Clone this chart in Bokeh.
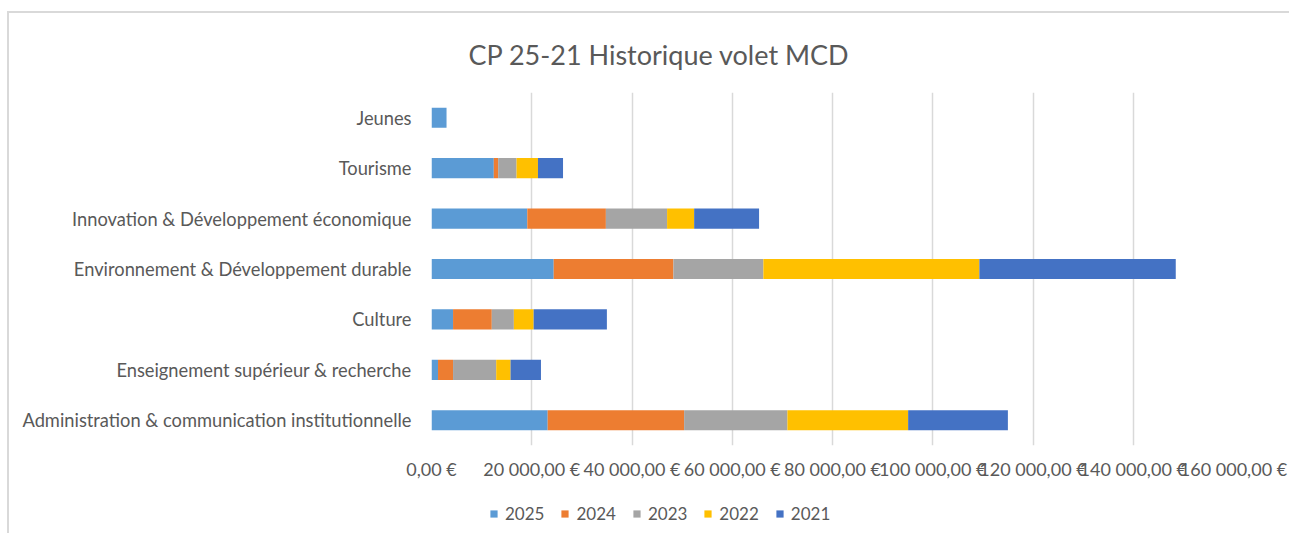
from bokeh.plotting import figure
from bokeh.layouts import column
from bokeh.models import ColumnDataSource, FactorRange, Range1d, FixedTicker, Legend, LegendItem
from bokeh.embed import file_html
from bokeh.resources import INLINE

categories = [
    "Administration & communication institutionnelle",
    "Enseignement supérieur & recherche",
    "Culture",
    "Environnement & Développement durable",
    "Innovation & Développement économique",
    "Tourisme",
    "Jeunes",
]
years = ["2025", "2024", "2023", "2022", "2021"]
v2025 = [23180, 1300, 4300, 24380, 19110, 12430, 3000]
v2024 = [27220, 3000, 7730, 23880, 15680, 870, 0]
v2023 = [20610, 8610, 4400, 17950, 12210, 3670, 0]
v2022 = [24080, 2860, 3950, 43090, 5400, 4270, 0]
v2021 = [19900, 6070, 14610, 39180, 12950, 5000, 0]
colors = ["#5B9BD5", "#ED7D31", "#A5A5A5", "#FFC000", "#4472C4"]

tick_values = [0, 20000, 40000, 60000, 80000, 100000, 120000, 140000, 160000]
tick_labels = ["0,00\u00a0€", "20\u00a0000,00\u00a0€", "40\u00a0000,00\u00a0€", "60\u00a0000,00\u00a0€",
               "80\u00a0000,00\u00a0€", "100\u00a0000,00\u00a0€", "120\u00a0000,00\u00a0€",
               "140\u00a0000,00\u00a0€", "160\u00a0000,00\u00a0€"]

FONT = "Lato"
TXT = "#595959"

src = ColumnDataSource(dict(cat=categories, **{"2025": v2025, "2024": v2024, "2023": v2023,
                                               "2022": v2022, "2021": v2021}))

# main chart
p = figure(width=1280, height=480,
           y_range=FactorRange(factors=categories, range_padding=0),
           x_range=Range1d(0, 160000),
           output_backend="svg", toolbar_location=None,
           min_border_left=422, min_border_right=56, min_border_top=79, min_border_bottom=48)
p.outline_line_color = None

renderers = p.hbar_stack(years, y="cat", height=0.4, fill_color=colors, line_color=None, source=src)

p.title.text = "CP 25-21 Historique volet MCD"
p.title.align = "left"
p.title.offset = 37
p.title.text_font = FONT
p.title.text_font_size = "27px"
p.title.text_font_style = "normal"
p.title.text_color = TXT
p.title.standoff = 43

p.xaxis.ticker = FixedTicker(ticks=tick_values)
p.xaxis.major_label_overrides = {v: l for v, l in zip(tick_values, tick_labels)}
p.xaxis.axis_line_color = None
p.xaxis.major_tick_line_color = None
p.xaxis.minor_tick_line_color = None
p.xaxis.major_tick_out = 0
p.xaxis.major_tick_in = 0
p.xaxis.major_label_standoff = 12
p.xaxis.major_label_text_font = FONT
p.xaxis.major_label_text_font_size = "18px"
p.xaxis.major_label_text_color = TXT

p.yaxis.axis_line_color = None
p.yaxis.major_tick_line_color = None
p.yaxis.major_tick_out = 0
p.yaxis.major_tick_in = 0
p.yaxis.major_label_standoff = 20
p.yaxis.major_label_text_font = FONT
p.yaxis.major_label_text_font_size = "18.3px"
p.yaxis.major_label_text_color = TXT

p.xgrid.grid_line_color = "#d9d9d9"
p.xgrid.grid_line_width = 1.5
p.ygrid.grid_line_color = None

# legend strip (frame aligned with the main chart's frame)
q = figure(width=1280, height=40, output_backend="svg", toolbar_location=None,
           x_axis_location=None, y_axis_location=None, min_border=0)
q.outline_line_color = None
q.grid.visible = False
leg_renderers = [q.hbar(y=[0], left=[0], right=[0], height=0.0001, fill_color=c, line_color=None)
                 for c in colors]

legend = Legend(items=[LegendItem(label=y, renderers=[r]) for y, r in zip(years, leg_renderers)],
                orientation="horizontal", location=(58, 9),
                label_text_font=FONT, label_text_font_size="17px", label_text_color=TXT,
                glyph_width=9, glyph_height=9, label_standoff=7, spacing=16,
                border_line_color=None, background_fill_alpha=0, padding=0, margin=0)
q.add_layout(legend)

lay = column(p, q)
lay.styles = {"margin-left": "7px", "margin-top": "11px",
              "border-left": "2px solid #d9d9d9", "border-top": "2px solid #d9d9d9"}

open("out.html", "w").write(file_html(lay, INLINE))
